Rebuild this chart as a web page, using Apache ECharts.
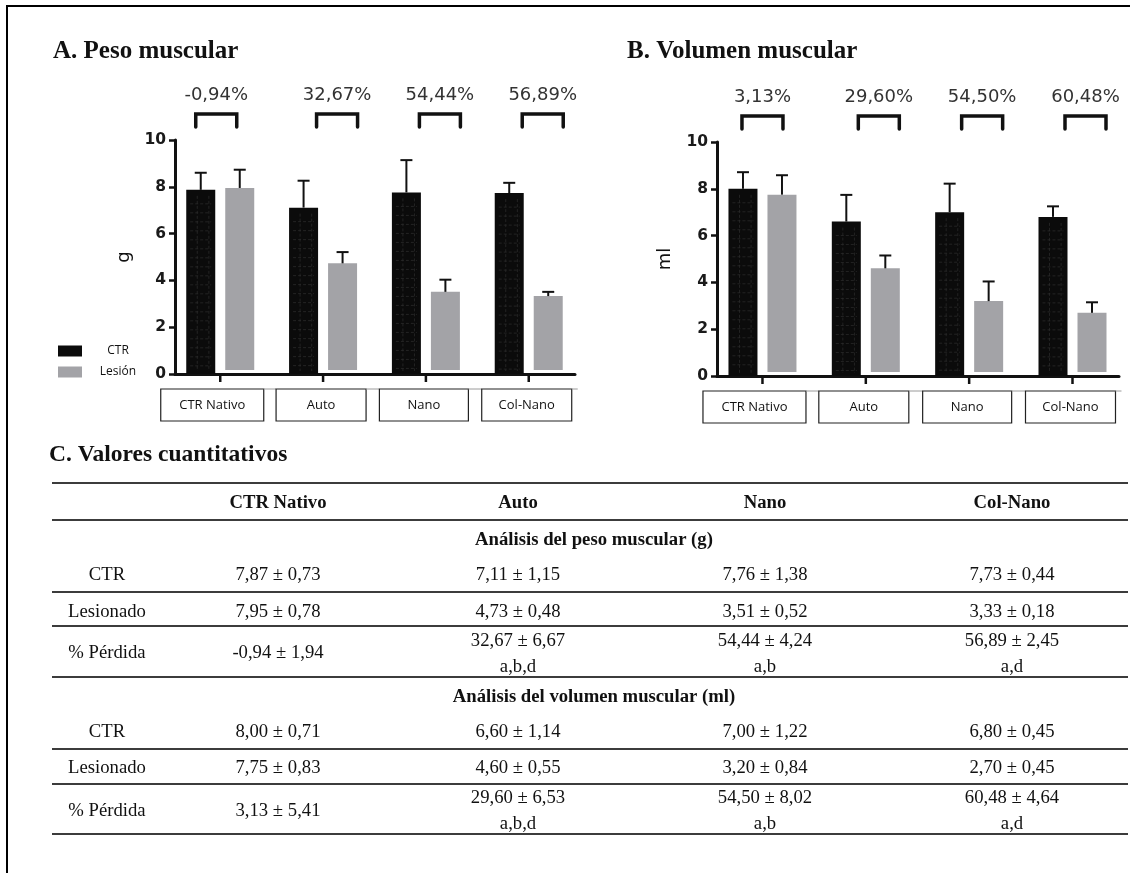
<!DOCTYPE html>
<html>
<head>
<meta charset="utf-8">
<script src="https://cdn.jsdelivr.net/npm/echarts@6/dist/echarts.min.js"></script>
<style>
  html, body { margin: 0; padding: 0; background: #fff; }
  #chart { width: 1130px; height: 873px; }
</style>
</head>
<body>
<div id="chart"></div>
<script>
// ---- data ----
const groups = ['CTR Nativo', 'Auto', 'Nano', 'Col-Nano'];
const seriesNames = ['CTR', 'Lesión'];
const yTicks = [0, 2, 4, 6, 8, 10];

// A. Peso muscular (g)
const weightCtr = [7.87, 7.11, 7.76, 7.73];
const weightCtrSd = [0.73, 1.15, 1.38, 0.44];
const weightLes = [7.95, 4.73, 3.51, 3.33];
const weightLesSd = [0.78, 0.48, 0.52, 0.18];
const weightLoss = [-0.94, 32.67, 54.44, 56.89];
const weightLossSd = [1.94, 6.67, 4.24, 2.45];
const weightLetters = ['', 'a,b,d', 'a,b', 'a,d'];

// B. Volumen muscular (ml)
const volumeCtr = [8.00, 6.60, 7.00, 6.80];
const volumeCtrSd = [0.71, 1.14, 1.22, 0.45];
const volumeLes = [7.75, 4.60, 3.20, 2.70];
const volumeLesSd = [0.83, 0.55, 0.84, 0.45];
const volumeLoss = [3.13, 29.60, 54.50, 60.48];
const volumeLossSd = [5.41, 6.53, 8.02, 4.64];
const volumeLetters = ['', 'a,b,d', 'a,b', 'a,d'];

// table text
const rowLabels = ['CTR', 'Lesionado', '% Pérdida'];
const sectionTitles = ['Análisis del peso muscular (g)', 'Análisis del volumen muscular (ml)'];
const panelTitles = ['A. Peso muscular', 'B. Volumen muscular', 'C. Valores cuantitativos'];
const axisNames = ['g', 'ml'];

// ---- layout / style ----
const BLACK = '#0b0b0b';
const GREY = '#a3a3a7';
const X_MIN = -0.44, X_MAX = 3.45;
const BAR_W = 29, BAR_SHIFT = 19.5;
const BRACKET_SHIFT = [[-4, 14, 14, 14], [0, 13, 13, 13]];
const BOX_W = [103, 90, 89, 90];
const BOX_SHIFT = [-8, -2, -2, -2];
const SANS = '"DejaVu Sans", sans-serif';
const SERIF = '"Liberation Serif", "Times New Roman", serif';
const Y_MIN = yTicks[0], Y_MAX = yTicks[yTicks.length - 1], Y_STEP = yTicks[1] - yTicks[0];

const fmt = v => v.toFixed(2).replace('.', ',');

// bar with optional grid texture and an upper error whisker
function barItem(shift, fill, textured) {
  return function (params, api) {
    const i = api.value(0), v = api.value(1), sd = api.value(2);
    const base = api.coord([i, 0]);
    const cx = base[0] + shift;
    const top = api.coord([i, v])[1];
    const errTop = api.coord([i, v + sd])[1];
    const left = cx - BAR_W / 2;
    const bottom = textured ? base[1] : base[1] - 4;
    const children = [{
      type: 'rect',
      shape: { x: left, y: top, width: BAR_W, height: bottom - top },
      style: { fill: fill }
    }];
    if (textured) {
      const tex = { stroke: '#2e2e2e', lineWidth: 0.7, lineDash: [3, 2] };
      [0.38, 0.78].forEach(f => children.push({
        type: 'line',
        shape: { x1: left + BAR_W * f, y1: top + 6, x2: left + BAR_W * f, y2: bottom - 3 },
        style: tex
      }));
      for (let y = top + 14; y < bottom - 4; y += 9) {
        children.push({
          type: 'line',
          shape: { x1: left + 4, y1: y, x2: left + BAR_W - 4, y2: y },
          style: tex
        });
      }
    }
    children.push({
      type: 'line',
      shape: { x1: cx, y1: top, x2: cx, y2: errTop },
      style: { stroke: '#111', lineWidth: 2 }
    });
    children.push({
      type: 'line',
      shape: { x1: cx - 6, y1: errTop, x2: cx + 6, y2: errTop },
      style: { stroke: '#111', lineWidth: 2 }
    });
    return { type: 'group', children: children };
  };
}

// bracket with the percentage lost above each group
function bracketItem(panel) {
  return function (params, api) {
    const i = api.value(0), v = api.value(1);
    const p = api.coord([i, Y_MAX]);
    const cx = p[0] + BRACKET_SHIFT[panel][i];
    const yTop = p[1] - 26;
    return {
      type: 'group',
      children: [{
        type: 'polyline',
        shape: { points: [[cx - 20.5, yTop + 13], [cx - 20.5, yTop], [cx + 20.5, yTop], [cx + 20.5, yTop + 13]] },
        style: { stroke: '#111', lineWidth: 3.5, fill: null, lineCap: 'round', lineJoin: 'miter' }
      }, {
        type: 'text',
        x: cx, y: yTop - 19,
        style: { text: fmt(v) + '%', align: 'center', verticalAlign: 'middle', font: '18px ' + SANS, fill: '#333' }
      }]
    };
  };
}

// category tick and labelled box under the axis
function categoryItem(params, api) {
  const i = api.value(0);
  const base = api.coord([i, 0]);
  const cx = base[0];
  const boxX = cx + BOX_SHIFT[i] - BOX_W[i] / 2;
  const boxY = base[1] + 15;
  const children = [{
    type: 'line',
    shape: { x1: cx, y1: base[1] + 1, x2: cx, y2: base[1] + 8 },
    style: { stroke: '#111', lineWidth: 2.5 }
  }, {
    type: 'rect',
    shape: { x: boxX, y: boxY, width: BOX_W[i], height: 32 },
    style: { fill: '#fff', stroke: '#222', lineWidth: 1.2 }
  }, {
    type: 'text',
    x: boxX + BOX_W[i] / 2, y: boxY + 16,
    style: { text: groups[i], align: 'center', verticalAlign: 'middle', font: '13px "Open Sans", sans-serif', fill: '#111' }
  }];
  const nextLeft = i < groups.length - 1
    ? api.coord([i + 1, 0])[0] + BOX_SHIFT[i + 1] - BOX_W[i + 1] / 2
    : boxX + BOX_W[i] + 6;
  children.push({
    type: 'line',
    shape: { x1: boxX + BOX_W[i], y1: boxY, x2: nextLeft, y2: boxY },
    style: { stroke: '#9a9a9a', lineWidth: 1 }
  });
  return { type: 'group', children: children };
}

const pack = (vals, sds) => vals.map((v, i) => [i, v, sds[i]]);

function panelSeries(panel, ctr, ctrSd, les, lesSd, loss) {
  const axes = { xAxisIndex: panel, yAxisIndex: panel };
  return [
    Object.assign({ type: 'custom', name: seriesNames[0], itemStyle: { color: BLACK },
      renderItem: barItem(-BAR_SHIFT, BLACK, true), data: pack(ctr, ctrSd) }, axes),
    Object.assign({ type: 'custom', name: seriesNames[1], itemStyle: { color: GREY },
      renderItem: barItem(BAR_SHIFT, GREY, false), data: pack(les, lesSd) }, axes),
    Object.assign({ type: 'custom', name: 'loss', renderItem: bracketItem(panel),
      data: loss.map((v, i) => [i, v]), silent: true }, axes),
    Object.assign({ type: 'custom', name: 'groups', renderItem: categoryItem,
      data: groups.map((g, i) => [i, 0]), silent: true }, axes)
  ];
}

function xAxisDef(gridIndex) {
  return {
    type: 'value', gridIndex: gridIndex, min: X_MIN, max: X_MAX,
    axisLine: { show: true, onZero: false, lineStyle: { color: '#111', width: 3 } },
    axisTick: { show: false }, axisLabel: { show: false }, splitLine: { show: false }
  };
}

function yAxisDef(gridIndex, name, gap) {
  return {
    type: 'value', gridIndex: gridIndex, min: Y_MIN, max: Y_MAX, interval: Y_STEP,
    name: name, nameLocation: 'middle', nameGap: gap,
    nameTextStyle: { fontFamily: SANS, fontSize: 18, color: '#111' },
    axisLine: { show: true, onZero: false, lineStyle: { color: '#111', width: 3 } },
    axisTick: { show: true, length: 6, lineStyle: { color: '#111', width: 2.5 } },
    axisLabel: { margin: 9, fontFamily: SANS, fontWeight: 'bold', fontSize: 15.5, color: '#1a1a1a' },
    splitLine: { show: false }
  };
}

// ---- table (panel C) ----
const colX = [107, 278, 518, 765, 1012];
const tableLines = [483, 520, 592, 626, 677, 749, 784, 834];
const sectionLayout = [
  { titleY: 540, rowY: [575, 612], lossY: 653, lossValY: 641, lossLetY: 667 },
  { titleY: 697, rowY: [732, 768], lossY: 811, lossValY: 798, lossLetY: 824 }
];
const sectionData = [
  { ctr: weightCtr, ctrSd: weightCtrSd, les: weightLes, lesSd: weightLesSd, loss: weightLoss, lossSd: weightLossSd, letters: weightLetters },
  { ctr: volumeCtr, ctrSd: volumeCtrSd, les: volumeLes, lesSd: volumeLesSd, loss: volumeLoss, lossSd: volumeLossSd, letters: volumeLetters }
];

const graphics = [];
const txt = (text, x, y, font, align) => graphics.push({
  type: 'text', x: x, y: y,
  style: { text: text, font: font, fill: '#111', align: align || 'center', verticalAlign: 'middle' }
});
const hline = (x1, x2, y, w, c) => graphics.push({
  type: 'line', shape: { x1: x1, y1: y, x2: x2, y2: y }, style: { stroke: c, lineWidth: w }
});

// frame
hline(6, 1130, 6, 2, '#000');
graphics.push({ type: 'line', shape: { x1: 7, y1: 5, x2: 7, y2: 873 }, style: { stroke: '#000', lineWidth: 2 } });

// panel titles
txt(panelTitles[0], 53, 52, 'bold 25px ' + SERIF, 'left');
txt(panelTitles[1], 627, 52, 'bold 25px ' + SERIF, 'left');
txt(panelTitles[2], 49, 455, 'bold 23.5px ' + SERIF, 'left');

const CELL = '18.7px ' + SERIF;
const CELL_B = 'bold 18.7px ' + SERIF;
tableLines.forEach(y => hline(52, 1128, y, 2, '#3c3c3c'));
groups.forEach((g, i) => txt(g, colX[i + 1], 503, CELL_B));
sectionData.forEach((d, s) => {
  const L = sectionLayout[s];
  txt(sectionTitles[s], 594, L.titleY, CELL_B);
  txt(rowLabels[0], colX[0], L.rowY[0], CELL);
  txt(rowLabels[1], colX[0], L.rowY[1], CELL);
  txt(rowLabels[2], colX[0], L.lossY, CELL);
  groups.forEach((g, i) => {
    const x = colX[i + 1];
    txt(fmt(d.ctr[i]) + ' ± ' + fmt(d.ctrSd[i]), x, L.rowY[0], CELL);
    txt(fmt(d.les[i]) + ' ± ' + fmt(d.lesSd[i]), x, L.rowY[1], CELL);
    const lossText = fmt(d.loss[i]) + ' ± ' + fmt(d.lossSd[i]);
    if (d.letters[i]) {
      txt(lossText, x, L.lossValY, CELL);
      txt(d.letters[i], x, L.lossLetY, CELL);
    } else {
      txt(lossText, x, L.lossY, CELL);
    }
  });
});

const chart = echarts.init(document.getElementById('chart'), null, { renderer: 'canvas' });
chart.setOption({
  backgroundColor: '#fff',
  animation: false,
  legend: {
    data: seriesNames,
    orient: 'vertical', left: 58, top: 345, padding: 0,
    icon: 'rect', itemWidth: 24, itemHeight: 11, itemGap: 9,
    formatter: name => '{c|' + name + '}',
    textStyle: { rich: { c: { width: 62, align: 'center', lineHeight: 14, fontSize: 12, fontFamily: '"Open Sans", sans-serif', color: '#111' } } },
    selectedMode: false
  },
  grid: [
    { left: 175, top: 140, width: 400, height: 234 },
    { left: 717, top: 142, width: 402, height: 234 }
  ],
  xAxis: [xAxisDef(0), xAxisDef(1)],
  yAxis: [yAxisDef(0, axisNames[0], 42), yAxisDef(1, axisNames[1], 43)],
  graphic: graphics,
  series: [].concat(
    panelSeries(0, weightCtr, weightCtrSd, weightLes, weightLesSd, weightLoss),
    panelSeries(1, volumeCtr, volumeCtrSd, volumeLes, volumeLesSd, volumeLoss)
  )
});
</script>
</body>
</html>
